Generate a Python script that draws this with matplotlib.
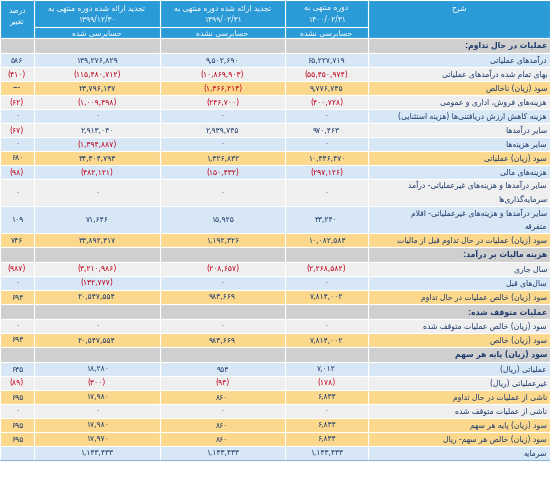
import re
import matplotlib
matplotlib.use("Agg")
import matplotlib.pyplot as plt
from matplotlib.patches import Rectangle

# ---- data ----
headers = ["شرح", "دوره منتهی به\n1400/02/31", "تجدید ارائه شده دوره منتهی به\n1399/02/31",
           "تجدید ارائه شده دوره منتهی به\n1399/12/30", "درصد\nتغییر"]
subheaders = ["", "حسابرسی نشده", "حسابرسی نشده", "حسابرسی شده", ""]

labels = ["عملیات در حال تداوم:", "درآمدهای عملیاتی", "بهای تمام شده درآمدهای عملیاتی", "سود (زیان) ناخالص",
          "هزینه‌های فروش، اداری و عمومی", "هزینه کاهش ارزش دریافتنی‌ها (هزینه استثنایی)", "سایر درآمدها",
          "سایر هزینه‌ها", "سود (زیان) عملیاتی", "هزینه‌های مالی",
          "سایر درآمدها و هزینه‌های غیرعملیاتی- درآمد\nسرمایه‌گذاری‌ها",
          "سایر درآمدها و هزینه‌های غیرعملیاتی- اقلام\nمتفرقه",
          "سود (زیان) عملیات در حال تداوم قبل از مالیات", "هزینه مالیات بر درآمد:", "سال جاری", "سال‌های قبل",
          "سود (زیان) خالص عملیات در حال تداوم", "عملیات متوقف شده:", "سود (زیان) خالص عملیات متوقف شده",
          "سود (زیان) خالص", "سود (زیان) پایه هر سهم", "عملیاتی (ریال)", "غیرعملیاتی (ریال)",
          "ناشی از عملیات در حال تداوم", "ناشی از عملیات متوقف شده", "سود (زیان) پایه هر سهم",
          "سود (زیان) خالص هر سهم- ریال", "سرمایه"]
col1 = ["", "65,227,719", "(55,450,974)", "9,776,745", "(400,728)", "0", "970,463", "0", "10,346,470", "(297,126)",
        "0", "33,240", "10,082,584", "", "(2,268,582)", "0", "7,814,002", "", "0", "7,814,002", "", "7,012",
        "(178)", "6,834", "0", "6,834", "6,834", "1,143,433"]
col2 = ["", "9,502,690", "(10,869,903)", "(1,366,213)", "(246,700)", "0", "2,939,745", "0", "1,326,832", "(150,432)",
        "0", "15,925", "1,192,326", "", "(208,657)", "0", "983,669", "", "0", "983,669", "", "954",
        "(94)", "860", "0", "860", "860", "1,143,433"]
col3 = ["", "139,276,829", "(115,480,712)", "23,796,137", "(1,009,498)", "0", "2,913,040", "(1,394,887)",
        "34,304,793", "(482,121)", "0", "71,646", "33,892,317", "", "(3,210,986)", "(132,777)", "20,547,554", "",
        "0", "20,547,554", "", "18,280", "(300)", "17,980", "0", "17,980", "17,970", "1,143,433"]
pct = ["", "586", "(410)", "---", "(62)", "0", "(67)", "0", "680", "(98)", "0", "109", "746", "", "(987)", "0",
       "694", "", "0", "694", "", "635", "(89)", "695", "0", "695", "695", ""]
kinds = ["s", "b", "g", "y", "g", "b", "g", "b", "y", "b", "g", "b", "y", "s", "g", "b", "y", "s", "g", "y",
         "s", "b", "g", "y", "g", "y", "y", "b"]

# ---- minimal Arabic shaping ----
forms = {
    'ء': (0xFE80,), 'آ': (0xFE81, 0xFE82), 'أ': (0xFE83, 0xFE84), 'ؤ': (0xFE85, 0xFE86), 'إ': (0xFE87, 0xFE88),
    'ئ': (0xFE89, 0xFE8A, 0xFE8B, 0xFE8C), 'ا': (0xFE8D, 0xFE8E), 'ب': (0xFE8F, 0xFE90, 0xFE91, 0xFE92),
    'ة': (0xFE93, 0xFE94), 'ت': (0xFE95, 0xFE96, 0xFE97, 0xFE98), 'ث': (0xFE99, 0xFE9A, 0xFE9B, 0xFE9C),
    'ج': (0xFE9D, 0xFE9E, 0xFE9F, 0xFEA0), 'ح': (0xFEA1, 0xFEA2, 0xFEA3, 0xFEA4), 'خ': (0xFEA5, 0xFEA6, 0xFEA7, 0xFEA8),
    'د': (0xFEA9, 0xFEAA), 'ذ': (0xFEAB, 0xFEAC), 'ر': (0xFEAD, 0xFEAE), 'ز': (0xFEAF, 0xFEB0),
    'س': (0xFEB1, 0xFEB2, 0xFEB3, 0xFEB4), 'ش': (0xFEB5, 0xFEB6, 0xFEB7, 0xFEB8), 'ص': (0xFEB9, 0xFEBA, 0xFEBB, 0xFEBC),
    'ض': (0xFEBD, 0xFEBE, 0xFEBF, 0xFEC0), 'ط': (0xFEC1, 0xFEC2, 0xFEC3, 0xFEC4), 'ظ': (0xFEC5, 0xFEC6, 0xFEC7, 0xFEC8),
    'ع': (0xFEC9, 0xFECA, 0xFECB, 0xFECC), 'غ': (0xFECD, 0xFECE, 0xFECF, 0xFED0), 'ف': (0xFED1, 0xFED2, 0xFED3, 0xFED4),
    'ق': (0xFED5, 0xFED6, 0xFED7, 0xFED8), 'ل': (0xFEDD, 0xFEDE, 0xFEDF, 0xFEE0), 'م': (0xFEE1, 0xFEE2, 0xFEE3, 0xFEE4),
    'ن': (0xFEE5, 0xFEE6, 0xFEE7, 0xFEE8), 'ه': (0xFEE9, 0xFEEA, 0xFEEB, 0xFEEC), 'و': (0xFEED, 0xFEEE),
    'ی': (0xFBFC, 0xFBFD, 0xFBFE, 0xFBFF), 'پ': (0xFB56, 0xFB57, 0xFB58, 0xFB59), 'چ': (0xFB7A, 0xFB7B, 0xFB7C, 0xFB7D),
    'ژ': (0xFB8A, 0xFB8B), 'ک': (0xFB8E, 0xFB8F, 0xFB90, 0xFB91), 'گ': (0xFB92, 0xFB93, 0xFB94, 0xFB95),
}
lamalef = {'ا': (0xFEFB, 0xFEFC), 'آ': (0xFEF5, 0xFEF6), 'أ': (0xFEF7, 0xFEF8), 'إ': (0xFEF9, 0xFEFA)}
fa_digits = str.maketrans("0123456789", "۰۱۲۳۴۵۶۷۸۹")


def dual(c):
    return c in forms and len(forms[c]) == 4


def shape_line(s):
    chars = list(s)
    out = []
    i = 0
    while i < len(chars):
        c = chars[i]
        if c not in forms:
            if c != '\u200c':
                out.append(c)
            i += 1
            continue
        prev = chars[i - 1] if i > 0 else ''
        jp = dual(prev)
        if c == 'ل' and i + 1 < len(chars) and chars[i + 1] in lamalef:
            out.append(chr(lamalef[chars[i + 1]][1 if jp else 0]))
            i += 2
            continue
        nxt = chars[i + 1] if i + 1 < len(chars) else ''
        jn = dual(c) and nxt in forms
        f = forms[c]
        if len(f) == 1:
            out.append(chr(f[0]))
        elif jp and jn:
            out.append(chr(f[3]))
        elif jp:
            out.append(chr(f[1]))
        elif jn:
            out.append(chr(f[2]))
        else:
            out.append(chr(f[0]))
        i += 1
    vis = ''.join(out)[::-1]
    vis = vis.translate(str.maketrans("()", ")("))
    vis = re.sub(r'[0-9/.,]+', lambda m: m.group(0)[::-1], vis)
    return vis.translate(fa_digits)


def fa(s):
    return '\n'.join(shape_line(l) for l in s.split('\n'))


# ---- drawing ----
fig = plt.figure(figsize=(5.5, 4.78), dpi=100)
ax = fig.add_axes([0, 0, 1, 1])
ax.set_xlim(0, 550)
ax.set_ylim(478, 0)
ax.axis('off')

xs = [550, 368, 285, 160, 34, 0]  # column edges, right to left
blue_h = '#2a9bd7'
bg = {'s': '#cfcfcf', 'b': '#d7e7f5', 'g': '#efefef', 'y': '#fbd88c'}
txt = '#1d3a6b'
red = '#c0001a'
font = 'DejaVu Sans'

# header
for j in range(5):
    x0, x1 = xs[j + 1], xs[j]
    ax.add_patch(Rectangle((x0, 0), x1 - x0, 38, fc=blue_h, ec='white', lw=0.8))
    cx = (x0 + x1) / 2
    if j == 0:
        ax.text(cx, 9, fa(headers[j]), ha='center', va='center', color='white', fontsize=5.5,
                family=font)
    else:
        ax.text(cx, 13 if subheaders[j] else 16, fa(headers[j]), ha='center', va='center', color='white',
                fontsize=5.5, family=font, linespacing=1.3)
    if subheaders[j]:
        ax.plot([x0, x1], [27, 27], color='white', lw=0.8)
        ax.text(cx, 32.5, fa(subheaders[j]), ha='center', va='center', color='white', fontsize=5.5, family=font)

y = 38
for i, lab in enumerate(labels):
    k = kinds[i]
    h = 15 if k == 's' else (27 if '\n' in lab else 14)
    for j in range(5):
        x0, x1 = xs[j + 1], xs[j]
        ax.add_patch(Rectangle((x0, y), x1 - x0, h, fc=bg[k], ec='white', lw=0.8))
    cy = y + h / 2
    ax.text(547, cy, fa(lab), ha='right', va='center', color=txt, fontsize=5.5, family=font,
            fontweight='bold' if k == 's' else 'normal', linespacing=1.6, multialignment='right')
    for j, col in enumerate([col1, col2, col3, pct]):
        v = col[i]
        if not v:
            continue
        cx = (xs[j + 1] + xs[j + 2]) / 2
        ax.text(cx, cy, v.translate(fa_digits), ha='center', va='center',
                color=red if v.startswith('(') else txt, fontsize=5.5, family=font)
    y += h

ax.plot([0, 550], [y, y], color='#8fb4d8', lw=0.8)
fig.savefig('out.png', dpi=100)
